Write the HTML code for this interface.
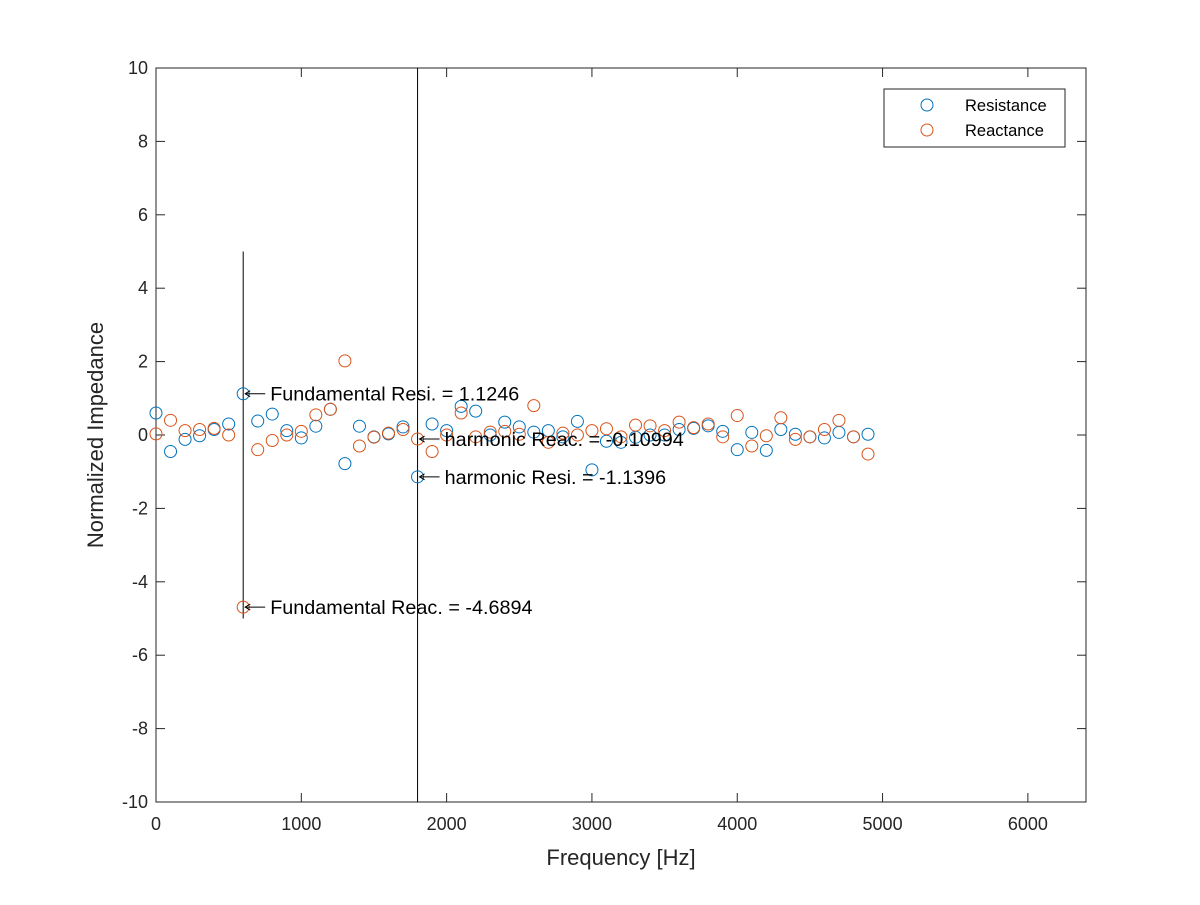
<!DOCTYPE html>
<html><head><meta charset="utf-8"><style>
body{margin:0;background:#fff}
text{font-family:"Liberation Sans",Arial,sans-serif}
</style></head><body>
<svg id="chart" width="1200" height="900">
<rect width="1200" height="900" fill="#fff"/>
<g id="plot"></g>
</svg>
<script>
const freqs=[0,100,200,300,400,500,600,700,800,900,1000,1100,1200,1300,1400,1500,1600,1700,1800,1900,2000,2100,2200,2300,2400,2500,2600,2700,2800,2900,3000,3100,3200,3300,3400,3500,3600,3700,3800,3900,4000,4100,4200,4300,4400,4500,4600,4700,4800,4900];
const resistance=[0.6,-0.45,-0.12,-0.02,0.15,0.3,1.1246,0.38,0.57,0.12,-0.08,0.24,0.7,-0.78,0.24,-0.05,0.03,0.22,-1.1396,0.3,0.12,0.78,0.65,0,0.35,0.22,0.08,0.12,-0.05,0.37,-0.95,-0.17,-0.2,-0.06,0,0,0.15,0.18,0.25,0.1,-0.4,0.07,-0.42,0.15,0.02,-0.05,-0.08,0.07,-0.05,0.02];
const reactance=[0.03,0.4,0.12,0.15,0.18,0,-4.6894,-0.4,-0.15,0,0.1,0.55,0.7,2.02,-0.3,-0.06,0.05,0.15,-0.10994,-0.45,0,0.6,-0.05,0.08,0.1,0.02,0.8,-0.2,0.05,0,0.12,0.17,-0.05,0.27,0.25,0.12,0.35,0.2,0.3,-0.05,0.53,-0.3,-0.02,0.47,-0.12,-0.05,0.15,0.4,-0.05,-0.52];
const xTicks=[0,1000,2000,3000,4000,5000,6000];
const yTicks=[-10,-8,-6,-4,-2,0,2,4,6,8,10];
const L=156,R=1086,T=68,B=802,XMAX=6400;
const sx=v=>L+v/XMAX*(R-L), sy=v=>B-(v+10)/20*(B-T);
const g=document.getElementById('plot');const NS='http://www.w3.org/2000/svg';
function mk(t,a,p){const e=document.createElementNS(NS,t);for(const k in a)e.setAttribute(k,a[k]);(p||g).appendChild(e);return e;}
let box=mk('rect',{x:L,y:T,width:R-L,height:B-T,fill:'none',stroke:'#262626','stroke-width':1});


xTicks.forEach(v=>{const x=sx(v);
 mk('line',{x1:x,x2:x,y1:B,y2:B-9,stroke:'#262626'});mk('line',{x1:x,x2:x,y1:T,y2:T+9,stroke:'#262626'});
 const t=mk('text',{x:x,y:B+28,'text-anchor':'middle','font-size':18,fill:'#262626'});t.textContent=v;
 
 });
yTicks.forEach(v=>{const y=sy(v);
 mk('line',{x1:L,x2:L+9,y1:y,y2:y,stroke:'#262626'});mk('line',{x1:R,x2:R-9,y1:y,y2:y,stroke:'#262626'});
 const t=mk('text',{x:L-8,y:y+6,'text-anchor':'end','font-size':18,fill:'#262626'});t.textContent=v;
 
 });
let xl=mk('text',{x:(L+R)/2,y:865,'text-anchor':'middle','font-size':22,fill:'#262626'});xl.textContent='Frequency [Hz]';


let yl=mk('text',{x:0,y:0,'text-anchor':'middle','font-size':22,fill:'#262626',transform:`translate(103,${(T+B)/2}) rotate(-90)`});yl.textContent='Normalized Impedance';


let v1=mk('line',{x1:sx(600),x2:sx(600),y1:sy(5),y2:sy(-5),stroke:'#000'});


let v2=mk('line',{x1:sx(1800),x2:sx(1800),y1:sy(10),y2:sy(-10),stroke:'#000'});


freqs.forEach((f,i)=>{
 const c=mk('circle',{cx:sx(f),cy:sy(resistance[i]),r:6,fill:'none',stroke:'#0072BD','stroke-width':1});
 
 
 const d=mk('circle',{cx:sx(f),cy:sy(reactance[i]),r:6,fill:'none',stroke:'#D95319','stroke-width':1});
 
 
});
function ann(f,v,label,name){const x=sx(f),y=sy(v);
 mk('line',{x1:x+2,x2:x+22,y1:y,y2:y,stroke:'#000'});
 mk('polyline',{points:`${x+7},${y-3} ${x+2},${y} ${x+7},${y+3}`,fill:'none',stroke:'#000'});
 const t=mk('text',{x:x+27,y:y+7,'font-size':19.8,fill:'#000'});t.textContent=label;
 
 }
ann(600,resistance[6],'Fundamental Resi. = 1.1246','fundamental-resistance-label');
ann(600,reactance[6],'Fundamental Reac. = -4.6894','fundamental-reactance-label');
ann(1800,reactance[18],'harmonic Reac. = -0.10994','harmonic-reactance-label');
ann(1800,resistance[18],'harmonic Resi. = -1.1396','harmonic-resistance-label');
const lg=mk('g',{});


mk('rect',{x:884,y:89,width:181,height:58,fill:'#fff',stroke:'#262626'},lg);
mk('circle',{cx:927,cy:105,r:6,fill:'none',stroke:'#0072BD'},lg);
mk('circle',{cx:927,cy:130,r:6,fill:'none',stroke:'#D95319'},lg);
let t1=mk('text',{x:965,y:111,'font-size':16.5,fill:'#000'},lg);t1.textContent='Resistance';


let t2=mk('text',{x:965,y:136,'font-size':16.5,fill:'#000'},lg);t2.textContent='Reactance';


</script>
</body></html>
